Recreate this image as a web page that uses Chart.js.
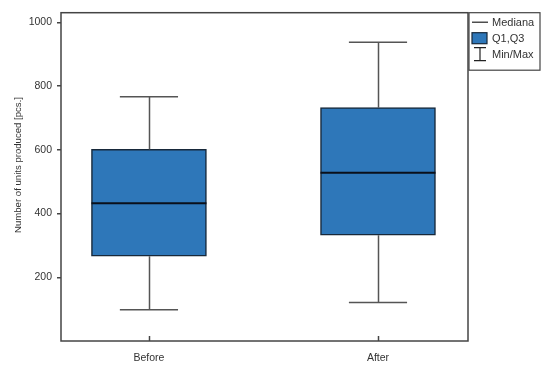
<!DOCTYPE html>
<html>
<head>
<meta charset="utf-8">
<script src="https://cdn.jsdelivr.net/npm/chart.js@4"></script>
<style>
html,body{margin:0;padding:0;background:#fff;}
#wrap{width:550px;height:371px;}
</style>
</head>
<body>
<div id="wrap"><canvas id="c" width="550" height="371"></canvas></div>
<script>
const categories = ['Before', 'After'];
const minVals = [98, 121];
const q1Vals = [266, 332];
const medianVals = [432, 528];
const q3Vals = [601, 732];
const maxVals = [766, 937];
const yTicks = [200, 400, 600, 800, 1000];
const yTitle = 'Number of units produced [pcs.]';
const legendLabels = ['Mediana', 'Q1,Q3', 'Min/Max'];

const FONT = '"Liberation Sans", Arial, sans-serif';
const BOX_FILL = '#2E77B9';
const BOX_EDGE = '#17283a';
const WHISK = '#555555';
const FRAME = '#444444';
const TEXT = '#333333';
const BOX_HALF = 0.251;
const CAP_HALF = 0.127;

const boxPlugin = {
  id: 'boxparts',
  afterDatasetsDraw(chart) {
    const ctx = chart.ctx;
    const xs = chart.scales.x, ys = chart.scales.y;
    const ca = chart.chartArea;
    ctx.save();
    ctx.strokeStyle = WHISK;
    ctx.lineWidth = 1.5;
    categories.forEach((c, i) => {
      const xc = Math.round(xs.getPixelForValue(i)) + 0.5;
      const x1 = xs.getPixelForValue(i - CAP_HALF), x2 = xs.getPixelForValue(i + CAP_HALF);
      const yMin = ys.getPixelForValue(minVals[i]), yQ1 = ys.getPixelForValue(q1Vals[i]);
      const yQ3 = ys.getPixelForValue(q3Vals[i]), yMax = ys.getPixelForValue(maxVals[i]);
      ctx.beginPath();
      ctx.moveTo(xc, yQ3); ctx.lineTo(xc, yMax);
      ctx.moveTo(xc, yQ1); ctx.lineTo(xc, yMin);
      ctx.moveTo(x1, yMax); ctx.lineTo(x2, yMax);
      ctx.moveTo(x1, yMin); ctx.lineTo(x2, yMin);
      ctx.stroke();
    });
    ctx.strokeStyle = '#0a0f1a';
    ctx.lineWidth = 2;
    categories.forEach((c, i) => {
      const y = ys.getPixelForValue(medianVals[i]);
      ctx.beginPath();
      ctx.moveTo(xs.getPixelForValue(i - BOX_HALF), y);
      ctx.lineTo(xs.getPixelForValue(i + BOX_HALF), y);
      ctx.stroke();
    });
    ctx.strokeStyle = FRAME;
    ctx.lineWidth = 1.5;
    ctx.strokeRect(ca.left, ca.top, ca.right - ca.left, ca.bottom - ca.top);
    categories.forEach((c, i) => {
      const xc = Math.round(xs.getPixelForValue(i)) + 0.5;
      ctx.beginPath();
      ctx.moveTo(xc, ca.bottom); ctx.lineTo(xc, ca.bottom - 5);
      ctx.stroke();
    });
    ctx.fillStyle = TEXT;
    ctx.font = '9.6px ' + FONT;
    ctx.textAlign = 'center';
    ctx.textBaseline = 'middle';
    ctx.translate(18, 165);
    ctx.rotate(-Math.PI / 2);
    ctx.fillText(yTitle, 0, 0);
    ctx.setTransform(1, 0, 0, 1, 0, 0);
    const lx = ca.right + 1, ly = ca.top, lw = 71, lh = 57.5;
    ctx.strokeStyle = FRAME;
    ctx.lineWidth = 1.2;
    ctx.strokeRect(lx, ly, lw, lh);
    ctx.font = '11px ' + FONT;
    ctx.textAlign = 'left';
    ctx.fillStyle = TEXT;
    const rowY = [ly + 9.5, ly + 25.5, ly + 41.5];
    ctx.strokeStyle = '#222';
    ctx.lineWidth = 1.2;
    ctx.beginPath();
    ctx.moveTo(lx + 3, rowY[0]); ctx.lineTo(lx + 19, rowY[0]);
    ctx.stroke();
    ctx.fillStyle = BOX_FILL;
    ctx.fillRect(lx + 3, rowY[1] - 5.5, 15, 11);
    ctx.strokeStyle = BOX_EDGE;
    ctx.strokeRect(lx + 3, rowY[1] - 5.5, 15, 11);
    ctx.strokeStyle = '#222';
    ctx.beginPath();
    ctx.moveTo(lx + 5, rowY[2] - 6.5); ctx.lineTo(lx + 17, rowY[2] - 6.5);
    ctx.moveTo(lx + 11, rowY[2] - 6.5); ctx.lineTo(lx + 11, rowY[2] + 6.5);
    ctx.moveTo(lx + 5, rowY[2] + 6.5); ctx.lineTo(lx + 17, rowY[2] + 6.5);
    ctx.stroke();
    ctx.fillStyle = TEXT;
    legendLabels.forEach((t, k) => ctx.fillText(t, lx + 23, rowY[k] + 0.5));
    ctx.restore();
  }
};

new Chart(document.getElementById('c'), {
  type: 'bar',
  data: {
    datasets: [{
      label: 'Q1,Q3',
      data: categories.map((c, i) => ({ x: i, y: [q1Vals[i], q3Vals[i]] })),
      backgroundColor: BOX_FILL,
      borderColor: BOX_EDGE,
      borderWidth: 1.5,
      borderSkipped: false,
      barThickness: 115
    }]
  },
  options: {
    responsive: false,
    animation: false,
    events: [],
    layout: { padding: { top: 12.7, right: 82, left: 0, bottom: 0 } },
    plugins: { legend: { display: false }, tooltip: { enabled: false } },
    scales: {
      x: {
        type: 'linear',
        offset: false,
        min: -0.384,
        max: 1.393,
        afterBuildTicks: s => { s.ticks = categories.map((c, i) => ({ value: i })); },
        afterFit: s => { s.height = 30; },
        grid: { display: false, offset: false },
        border: { display: false },
        ticks: {
          callback: v => categories[v],
          color: TEXT,
          font: { family: FONT, size: 10.5 },
          padding: 3,
          maxRotation: 0
        }
      },
      y: {
        min: 0,
        max: 1030,
        afterBuildTicks: s => { s.ticks = yTicks.map(v => ({ value: v })); },
        afterFit: s => { s.width = 61; },
        grid: { drawOnChartArea: false, drawTicks: true, tickLength: 4, color: FRAME, lineWidth: 1.5 },
        border: { display: false },
        ticks: {
          callback: v => String(v),
          color: TEXT,
          font: { family: FONT, size: 10.5 },
          padding: 5
        }
      }
    }
  },
  plugins: [boxPlugin]
});
</script>
</body>
</html>
